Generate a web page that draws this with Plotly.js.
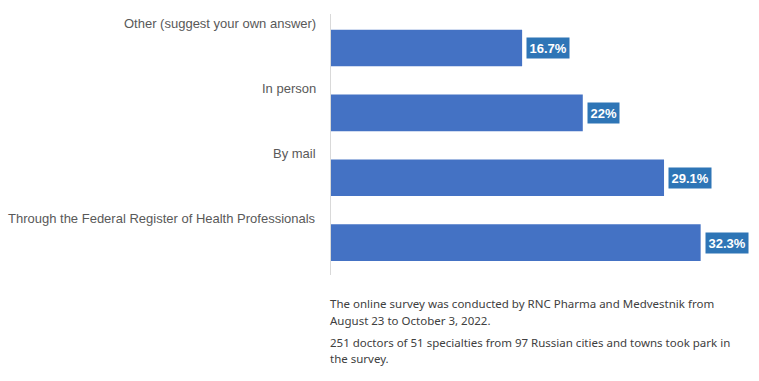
<!DOCTYPE html>
<html>
<head>
<meta charset="utf-8">
<script src="https://cdn.plot.ly/plotly-3.0.1.min.js"></script>
<style>html,body{margin:0;padding:0;background:#fff;}#chart{width:759px;height:381px;}</style>
</head>
<body>
<div id="chart"></div>
<script>
// Data (bottom to top)
const categories = [
  "Through the Federal Register of Health Professionals",
  "By mail",
  "In person",
  "Other (suggest your own answer)"
];
const values = [32.3, 29.1, 22, 16.7];
const valueLabels = ["32.3%", "29.1%", "22%", "16.7%"];
const footnoteLines = [
  "The online survey was conducted by RNC Pharma and Medvestnik from",
  "August 23 to October 3, 2022.",
  "251 doctors of 51 specialties from 97 Russian cities and towns took park in",
  "the survey."
];
const footnoteShifts = [-28, -45, -67, -83];

const annotations = [];
categories.forEach((c, i) => {
  annotations.push({
    x: 0, xref: "paper", y: c, yref: "y",
    xanchor: "right", yanchor: "middle", xshift: -13, yshift: 24.5,
    text: c, showarrow: false, align: "right",
    font: {family: "Liberation Sans, Arial, sans-serif", size: 13, color: "#595959"}
  });
  annotations.push({
    x: values[i], xref: "x", y: c, yref: "y",
    xanchor: "left", yanchor: "middle", xshift: 4,
    text: "<b>" + valueLabels[i] + "</b>", showarrow: false,
    bgcolor: "#2e75b6", borderpad: 2.5,
    font: {family: "Liberation Sans, Arial, sans-serif", size: 13, color: "#ffffff"}
  });
});
footnoteLines.forEach((t, i) => {
  annotations.push({
    x: 0, xref: "paper", y: 0, yref: "paper",
    xanchor: "left", yanchor: "middle", xshift: -3, yshift: footnoteShifts[i],
    text: t, showarrow: false, align: "left",
    font: {family: "Noto Sans, Open Sans, sans-serif", size: 11.5, color: "#404040"}
  });
});

const trace = {
  type: "bar", orientation: "h",
  x: values, y: categories,
  marker: {color: "#4472c4"},
  hoverinfo: "none"
};

const layout = {
  width: 759, height: 381,
  margin: {l: 331, r: 16, t: 14, b: 106},
  paper_bgcolor: "#ffffff", plot_bgcolor: "#ffffff",
  bargap: 0.435,
  showlegend: false,
  xaxis: {range: [0, 36], showgrid: false, zeroline: false, showline: false, showticklabels: false, ticks: ""},
  yaxis: {showgrid: false, zeroline: false, showline: true, linecolor: "#d9d9d9", linewidth: 1, showticklabels: false, ticks: ""},
  annotations: annotations
};

Plotly.newPlot("chart", [trace], layout, {displayModeBar: false, staticPlot: true});
</script>
</body>
</html>
